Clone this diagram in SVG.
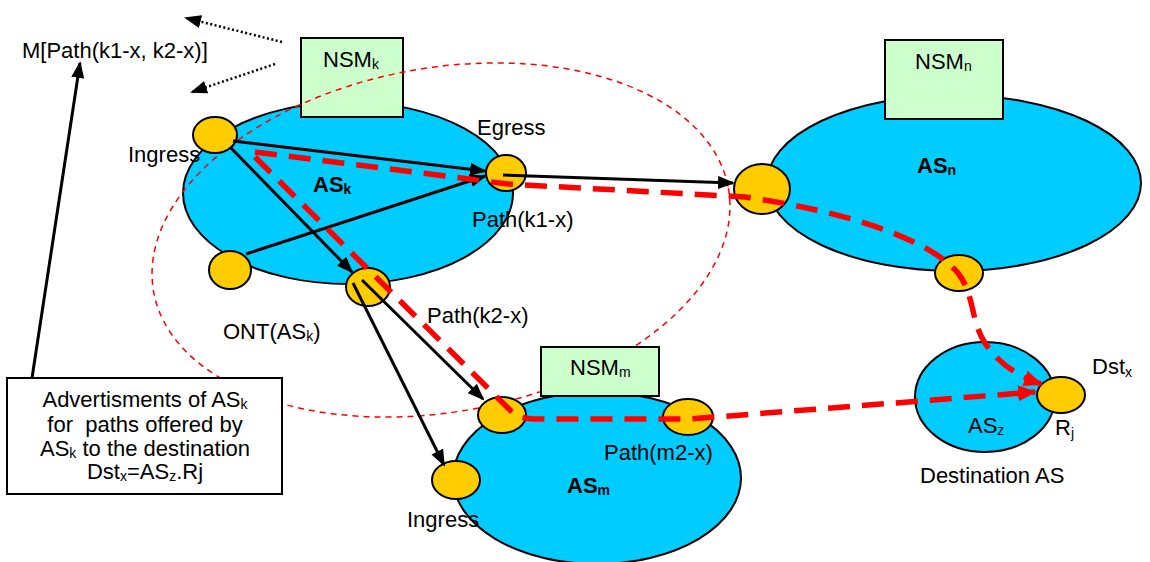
<svg xmlns="http://www.w3.org/2000/svg" width="1150" height="562" viewBox="0 0 1150 562">
<style>
text{font-family:"Liberation Sans",Arial,sans-serif;font-size:22px;fill:#000}
.b{font-weight:bold}
.sub{font-size:14px}
.as{fill:#00CCFF;stroke:#000;stroke-width:2}
.nd{fill:#FFCC00;stroke:#000;stroke-width:2}
.nsm{fill:#CCFFCC;stroke:#000;stroke-width:2}
.blk{stroke:#000;stroke-width:3;fill:none;marker-end:url(#ab)}
.dot{stroke:#000;stroke-width:2.5;fill:none;stroke-dasharray:2 2.5;marker-end:url(#ab)}
.red{stroke:#FF0000;stroke-width:5.5;fill:none;stroke-dasharray:22 12;marker-end:url(#ar)}
.ont{stroke:#FF0000;stroke-width:1.5;fill:none;stroke-dasharray:6 5}
</style>
<defs>
<marker id="ab" markerUnits="userSpaceOnUse" markerWidth="17" markerHeight="13" viewBox="0 0 17 13" refX="15" refY="6.5" orient="auto"><path d="M0,0 L17,6.5 L0,13 z" fill="#000"/></marker>
<marker id="ar" markerUnits="userSpaceOnUse" markerWidth="19" markerHeight="16" viewBox="0 0 19 16" refX="17" refY="8" orient="auto"><path d="M0,0 L19,8 L0,16 z" fill="#FF0000"/></marker>
</defs>
<rect width="1150" height="562" fill="#fff"/>

<g id="AS_k">
<ellipse class="as" cx="348" cy="193" rx="165" ry="91"/>
<rect class="nsm" x="301" y="38" width="102" height="79"/>
<text x="323" y="67">NSM<tspan class="sub" dy="2">k</tspan></text>
</g>
<g id="AS_n">
<ellipse class="as" cx="954" cy="183" rx="187" ry="88"/>
<rect class="nsm" x="885" y="40" width="118" height="79"/>
<text x="915" y="69">NSM<tspan class="sub" dy="2">n</tspan></text>
<text class="b" x="917" y="173">AS<tspan class="sub" dy="2">n</tspan></text>
</g>

<g id="ONT_ASk">
<ellipse class="ont" cx="441" cy="240" rx="292" ry="172" transform="rotate(-10.25 441 240)"/>
<text x="223" y="339">ONT(AS<tspan class="sub" dy="2">k</tspan><tspan dy="-2">)</tspan></text>
</g>

<g id="AS_m">
<ellipse class="as" cx="597" cy="478" rx="144" ry="86"/>
<rect class="nsm" x="541" y="347" width="118" height="49"/>
<text x="570" y="375">NSM<tspan class="sub" dy="2">m</tspan></text>
<text class="b" x="567" y="493">AS<tspan class="sub" dy="2">m</tspan></text>
</g>
<g id="AS_z">
<ellipse class="as" cx="985" cy="397" rx="70" ry="55"/>
<text x="968" y="433">AS<tspan class="sub" dy="2">z</tspan></text>
<text x="920" y="483">Destination AS</text>
</g>

<g id="ingress_k"><ellipse class="nd" cx="215" cy="135" rx="22" ry="18"/><text x="128" y="162">Ingress</text></g>
<g id="egress_k"><ellipse class="nd" cx="506" cy="173" rx="20" ry="18"/><text x="477" y="135">Egress</text></g>
<g id="node_k3"><ellipse class="nd" cx="230" cy="270" rx="21" ry="19"/></g>
<g id="node_k2"><ellipse class="nd" cx="368" cy="287" rx="22" ry="19"/></g>
<g id="node_n1"><ellipse class="nd" cx="762" cy="189" rx="28" ry="25"/></g>
<g id="node_n2"><ellipse class="nd" cx="959" cy="273" rx="24" ry="18"/></g>
<g id="node_m1"><ellipse class="nd" cx="502" cy="415" rx="24" ry="18"/></g>
<g id="node_m2"><ellipse class="nd" cx="688" cy="417" rx="25" ry="18"/></g>
<g id="ingress_m"><ellipse class="nd" cx="456" cy="480" rx="24" ry="19"/><text x="407" y="527">Ingress</text></g>
<g id="node_Rj"><ellipse class="nd" cx="1061" cy="395" rx="24" ry="18"/>
<text x="1055" y="435">R<tspan class="sub" dy="3">j</tspan></text>
<text x="1092" y="374">Dst<tspan class="sub" dy="3">x</tspan></text></g>

<g id="advert">
<rect x="7" y="378" width="275" height="116" fill="#fff" stroke="#000" stroke-width="2"/>
<text x="145" y="407" text-anchor="middle">Advertisments of AS<tspan class="sub" dy="2">k</tspan></text>
<text x="145" y="432" text-anchor="middle" style="white-space:pre">for  paths offered by</text>
<text x="145" y="456" text-anchor="middle">AS<tspan class="sub" dy="2">k</tspan><tspan dy="-2"> to the destination</tspan></text>
<text x="145" y="479" text-anchor="middle">Dst<tspan class="sub" dy="2">x</tspan><tspan dy="-2">=AS</tspan><tspan class="sub" dy="2">z</tspan><tspan dy="-2">.Rj</tspan></text>
</g>
<g id="label_M"><text x="22" y="58">M[Path(k1-x, k2-x)]</text></g>

<g id="connectors">
<path class="blk" d="M233,141 L485,171"/>
<path class="blk" d="M246,254 L485,176"/>
<path class="blk" d="M230,147 L352,272"/>
<path class="blk" d="M503,175 L733,183"/>
<path class="blk" d="M362,280 L483,399"/>
<path class="blk" d="M353,283 L444,465"/>
<path class="blk" d="M32,378 L80,63"/>
<path class="dot" d="M282,42 L186,18"/>
<path class="dot" d="M275,64 L192,92"/>
<path class="red" d="M255,152 L508,184 L745,197 C850,212 930,240 958,273 C975,295 970,320 985,343 C1000,365 1018,376 1041,384"/>
<path class="red" d="M255,157 L510,410 Q518,419 535,419 L690,419 L1035,392"/>
</g>
<g id="path_labels">
<text x="472" y="227">Path(k1-x)</text>
<text x="427" y="323">Path(k2-x)</text>
<text x="604" y="460">Path(m2-x)</text>
<text class="b" x="313" y="192">AS<tspan class="sub" dy="2">k</tspan></text>
</g>
</svg>
